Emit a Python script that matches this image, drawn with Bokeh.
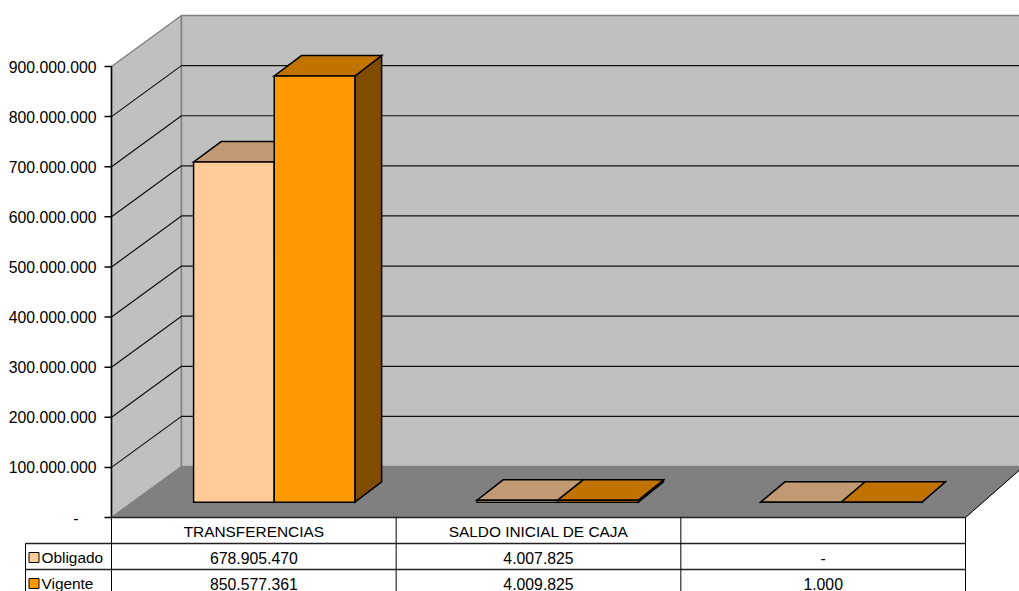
from bokeh.plotting import figure
from bokeh.models import Range1d
from bokeh.core.properties import value
from bokeh.embed import file_html
from bokeh.resources import INLINE

# ---------------- data ----------------
categories = ["TRANSFERENCIAS", "SALDO INICIAL DE CAJA", ""]
series_names = ["Obligado", "Vigente"]
obligado = [678905470, 4007825, 0]
vigente = [850577361, 4009825, 1000]
y_ticks = [0, 100000000, 200000000, 300000000, 400000000,
           500000000, 600000000, 700000000, 800000000, 900000000]

# ---------------- layout constants ----------------
PX_CAT = 284.67          # pixels per category
PX_VAL = 50.11e-8        # pixels per unit of value
ORIGIN_X, ORIGIN_Y = 111, 517   # page pixel of (0, 0)
PAGE_L, PAGE_R, PAGE_T, PAGE_B = 0, 1019, 0, 591

def dx(px):
    return px / PX_CAT

def dy(px):
    return px / PX_VAL

N = len(categories)
DEPTH_Y = dy(51)
Z0, Z1 = 0.3, 0.7
BAR_W = dx(81)

def depth_x(xc):
    return dx(70 - 4.0 * xc)

def P(xc, v, z):
    return xc + z * depth_x(xc), v + z * DEPTH_Y

FONT = value("Liberation Sans")
NUM_FS = "15.8px"
TXT_FS = "15.4px"

p = figure(width=PAGE_R - PAGE_L, height=PAGE_B - PAGE_T,
           output_backend="svg", toolbar_location=None,
           x_range=Range1d(dx(PAGE_L - ORIGIN_X), dx(PAGE_R - ORIGIN_X)),
           y_range=Range1d(dy(ORIGIN_Y - PAGE_B), dy(ORIGIN_Y - PAGE_T)),
           x_axis_location=None, y_axis_location=None, min_border=0)
p.grid.visible = False
p.outline_line_color = None
p.background_fill_color = "white"
p.border_fill_color = "white"

ymax = max(y_ticks)

def poly(pts):
    return [q[0] for q in pts], [q[1] for q in pts]

# walls and floor
walls = [
    [P(0, 0, 0), P(0, ymax, 0), P(0, ymax, 1), P(0, 0, 1)],
    [P(0, 0, 1), P(0, ymax, 1), P(N, ymax, 1), P(N, 0, 1)],
]
xs, ys = zip(*[poly(w) for w in walls])
p.patches(list(xs), list(ys), fill_color="#C0C0C0", line_color="#808080", line_width=1.5)
fx, fy = poly([P(0, 0, 0), P(N, 0, 0), P(N, 0, 1), P(0, 0, 1)])
p.patch(fx, fy, fill_color="#808080", line_color="#808080", line_width=1)
# floor right edge
p.line([P(N, 0, 0)[0], P(N, 0, 1)[0]], [P(N, 0, 0)[1], P(N, 0, 1)[1]],
       line_color="black", line_width=1)

# gridlines
gx, gy = [], []
for t in y_ticks[1:-1]:
    a, b, c = P(0, t, 0), P(0, t, 1), P(N, t, 1)
    gx.append([a[0], b[0], c[0]])
    gy.append([a[1], b[1], c[1]])
p.multi_line(gx, gy, line_color="#111111", line_width=1.2)

# bars
front_c = ["#FFCC99", "#FF9900"]
top_c = ["#C19A73", "#C07300"]
side_c = ["#7F664C", "#7F4C00"]
bx, by, bc = [], [], []
for i in range(N):
    for s, vals in enumerate([obligado, vigente]):
        xa = i + 0.5 + (s - 1) * BAR_W
        xb = xa + BAR_W
        v = vals[i]
        faces = [
            ([P(xb, 0, Z0), P(xb, 0, Z1), P(xb, v, Z1), P(xb, v, Z0)], side_c[s]),
            ([P(xa, v, Z0), P(xb, v, Z0), P(xb, v, Z1), P(xa, v, Z1)], top_c[s]),
            ([P(xa, 0, Z0), P(xb, 0, Z0), P(xb, v, Z0), P(xa, v, Z0)], front_c[s]),
        ]
        for pts, col in faces:
            x_, y_ = poly(pts)
            bx.append(x_)
            by.append(y_)
            bc.append(col)
p.patches(bx, by, fill_color=bc, line_color="black", line_width=1.5, line_join="miter")

# y axis
p.line([0, 0], [0, ymax], line_color="black", line_width=1.5)
p.segment(x0=[dx(-7)] * len(y_ticks), y0=y_ticks, x1=[0] * len(y_ticks), y1=y_ticks,
          line_color="black", line_width=1.5)

def fmt(v):
    return "-" if v == 0 else f"{v:,}".replace(",", ".")

nz = [t for t in y_ticks if t != 0]
p.text(x=[dx(-15)] * len(nz), y=nz, text=[fmt(t) for t in nz],
       text_align="right", text_baseline="middle", text_font=FONT,
       text_font_size=NUM_FS, text_color="black")
zs = [t for t in y_ticks if t == 0]
p.text(x=[dx(-35.5)] * len(zs), y=zs, text=[fmt(t) for t in zs],
       text_align="center", text_baseline="middle", text_font=FONT,
       text_font_size=NUM_FS, text_color="black")

# data table
ROW = dy(26)
bottom = -3.2 * ROW
key_x = dx(25 - ORIGIN_X)
# horizontal lines
p.segment(x0=[0, key_x, key_x], y0=[0, -ROW, -2 * ROW],
          x1=[N, N, N], y1=[0, -ROW, -2 * ROW],
          line_color="#222222", line_width=1.5)
# vertical lines
vx = list(range(N + 1))
p.segment(x0=vx, y0=[0] * len(vx), x1=vx, y1=[bottom] * len(vx),
          line_color="black", line_width=1)
p.segment(x0=[key_x], y0=[-ROW], x1=[key_x], y1=[bottom],
          line_color="black", line_width=1)

centers = [i + 0.5 for i in range(N)]
p.text(x=centers, y=[-0.5 * ROW - dy(0.5)] * N, text=categories,
       text_align="center", text_baseline="middle", text_font=FONT,
       text_font_size=TXT_FS, text_color="black")
for r, vals in enumerate([obligado, vigente]):
    yc = -(r + 1.5) * ROW - dy(1)
    p.text(x=centers, y=[yc] * N, text=[fmt(v) for v in vals],
           text_align="center", text_baseline="middle", text_font=FONT,
           text_font_size=NUM_FS, text_color="black")
    p.scatter(x=[dx(33.5 - ORIGIN_X)], y=[yc], marker="square", size=10,
              fill_color=front_c[r], line_color="black", line_width=1)
    p.text(x=[dx(41 - ORIGIN_X)], y=[yc], text=[series_names[r]],
           text_align="left", text_baseline="middle", text_font=FONT,
           text_font_size=TXT_FS, text_color="black")

open("out.html", "w").write(file_html(p, INLINE))
